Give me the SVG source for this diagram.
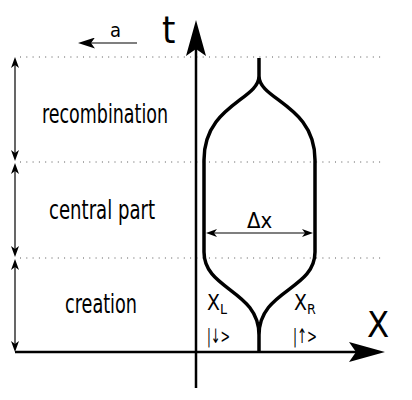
<svg xmlns="http://www.w3.org/2000/svg" width="412" height="400" viewBox="0 0 412 400">
<style>
.lbl{font-family:"DejaVu Sans Condensed","DejaVu Sans",sans-serif;fill:#000}
.dot{stroke:#555;stroke-width:1;stroke-dasharray:1 5.3;fill:none}
.thin{stroke:#000;stroke-width:1.2;fill:none}
.axis{stroke:#000;stroke-width:2.5;fill:none}
.shape{stroke:#000;stroke-width:3.5;fill:none}
</style>
<defs>
<marker id="lg" markerUnits="userSpaceOnUse" viewBox="0 0 36 20" markerWidth="36" markerHeight="20" refX="26" refY="10" orient="auto"><path d="M36,10 L0,0 L7,10 L0,20 Z" fill="#000"/></marker>
<marker id="md" markerUnits="userSpaceOnUse" viewBox="0 0 17 11" markerWidth="17" markerHeight="11" refX="12" refY="5.5" orient="auto"><path d="M17,5.5 L0,0 L4,5.5 L0,11 Z" fill="#000"/></marker>
<marker id="sm" markerUnits="userSpaceOnUse" viewBox="0 0 11 8" markerWidth="11" markerHeight="8" refX="8" refY="4" orient="auto-start-reverse"><path d="M11,4 L0,0 L3,4 L0,8 Z" fill="#000"/></marker>
</defs>
<g id="gridlines">
<line class="dot" x1="20" y1="57" x2="381" y2="57"/>
<line class="dot" x1="20" y1="162" x2="381" y2="162"/>
<line class="dot" x1="20" y1="258" x2="381" y2="258"/>
</g>
<g id="connectors">
<line class="thin" x1="15" y1="60" x2="15" y2="158" marker-start="url(#sm)" marker-end="url(#sm)"/>
<line class="thin" x1="15" y1="166" x2="15" y2="254" marker-start="url(#sm)" marker-end="url(#sm)"/>
<line class="thin" x1="15" y1="262" x2="15" y2="349" marker-start="url(#sm)" marker-end="url(#sm)"/>
<line class="thin" x1="209" y1="233" x2="310" y2="233" stroke-width="1.5" marker-start="url(#sm)" marker-end="url(#sm)"/>
<line class="thin" x1="137" y1="43" x2="83" y2="43" stroke-width="1.8" marker-end="url(#md)"/>
</g>
<g id="t-axis">
<line class="axis" x1="196" y1="388" x2="196" y2="30" marker-end="url(#lg)"/>
<text class="lbl" x="162" y="43" font-size="38" font-family="DejaVu Sans">t</text>
</g>
<g id="x-axis">
<line class="axis" x1="15" y1="352" x2="375" y2="352" marker-end="url(#lg)"/>
<text class="lbl" x="367" y="337" font-size="36" font-family="DejaVu Sans">X</text>
</g>
<g id="bubble">
<path class="shape" d="M259,58 L259,76 C259,100 315,105 315,160 L315,252 C315,290 259,290 259,335 L259,352 M259,76 C259,100 204,105 204,160 L204,252 C204,290 259,290 259,335"/>
<text class="lbl" x="247" y="228" font-size="22">Δx</text>
</g>
<g id="a-label">
<text class="lbl" x="110" y="37" font-size="20">a</text>
</g>
<g id="recombination">
<text class="lbl" x="42" y="123" font-size="26" textLength="126" lengthAdjust="spacingAndGlyphs">recombination</text>
</g>
<g id="central-part">
<text class="lbl" x="49" y="219" font-size="26" textLength="106" lengthAdjust="spacingAndGlyphs">central part</text>
</g>
<g id="creation">
<text class="lbl" x="65" y="313" font-size="26" textLength="72" lengthAdjust="spacingAndGlyphs">creation</text>
</g>
<g id="xL">
<text class="lbl" x="207" y="310" font-size="21">X<tspan font-size="14" dy="4">L</tspan></text>
<text class="lbl" x="207" y="343" font-size="20" textLength="23" lengthAdjust="spacingAndGlyphs">|↓&gt;</text>
</g>
<g id="xR">
<text class="lbl" x="294" y="310" font-size="21">X<tspan font-size="14" dy="4">R</tspan></text>
<text class="lbl" x="293" y="343" font-size="20" textLength="24" lengthAdjust="spacingAndGlyphs">|↑&gt;</text>
</g>
</svg>
